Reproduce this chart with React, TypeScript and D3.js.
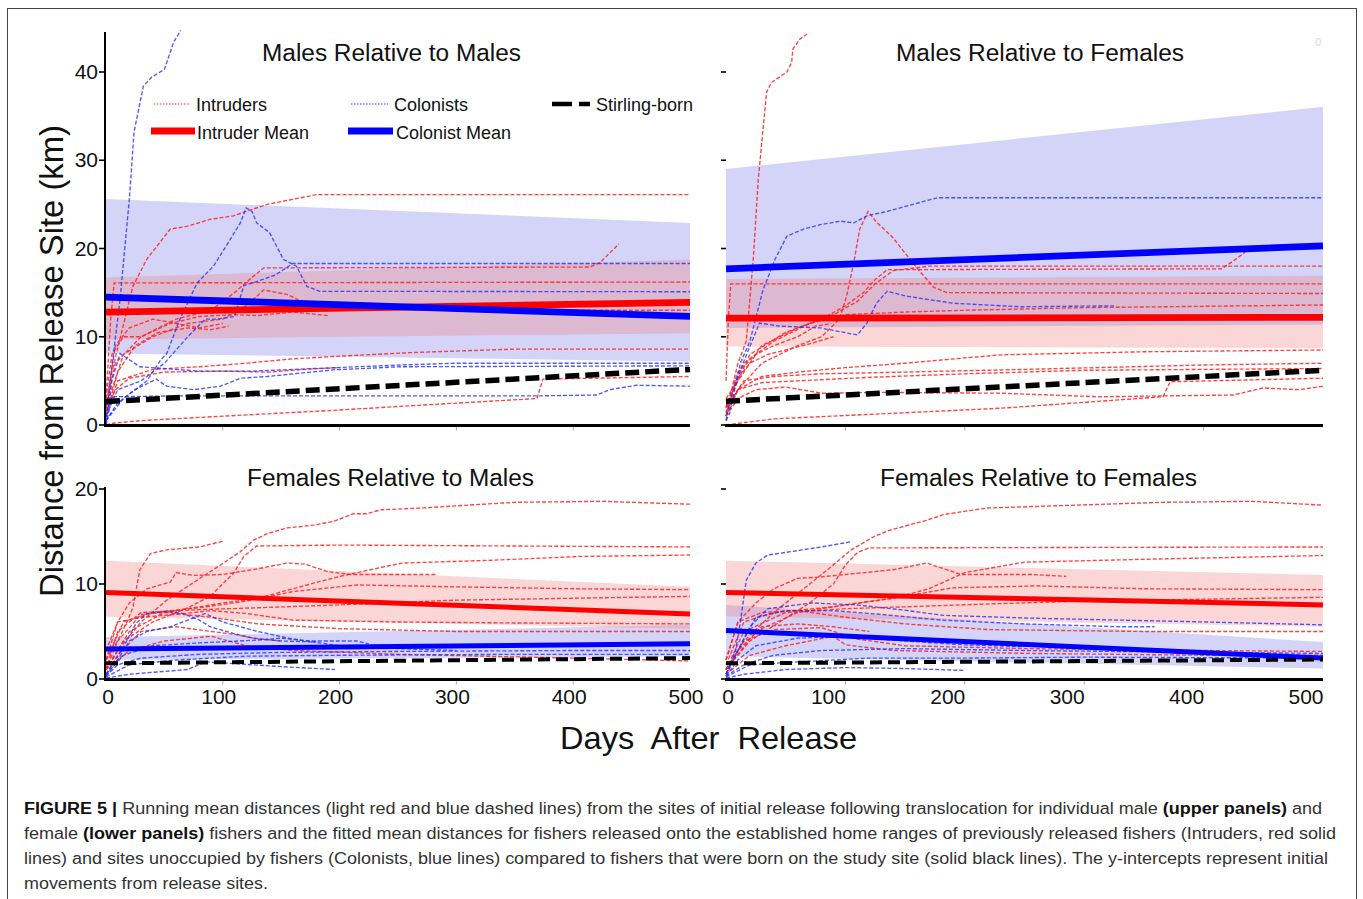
import * as d3 from 'd3'
import React from 'react'

type Pt = [number, number]
type BandPt = [number, number, number]

// x ticks (days) and y ticks (km)
const dayTicks = [0, 100, 200, 300, 400, 500]
const kmTicksTop = [0, 10, 20, 30, 40]
const kmTicksBottom = [0, 10, 20]

// ---- Males relative to males (top left)
const mmIntruders: Pt[][] = [
  [[0, 1], [5, 6], [23, 15.7], [35, 18.8], [55, 22.2], [69, 22.5], [89, 23.3], [109, 23.7], [120, 24.2], [138, 25], [180, 26.1], [500, 26.1]],
  [[0, 2], [8, 7], [30, 10], [60, 12], [90, 13], [110, 15], [123, 16.5], [135, 17.8], [414, 17.9], [423, 18.4], [439, 20.5]],
  [[0, 3], [4, 12], [7, 16.1], [500, 16.2]],
  [[0, 2], [15, 8], [40, 10], [70, 11.5], [100, 12], [120, 13.5], [135, 15.3], [155, 14.8], [180, 13.2], [300, 13], [500, 13]],
  [[0, 1], [10, 5], [40, 6.3], [80, 6.6], [120, 7.0], [160, 7.5], [200, 7.8], [260, 8.2], [350, 8.6], [500, 8.6]],
  [[0, 1.5], [8, 4], [20, 5.3], [50, 6.0], [100, 6.1], [140, 6.0], [170, 6.3], [200, 6.5]],
  [[0, 0], [6, 0.2], [30, 0.5], [100, 1.0], [200, 1.7], [250, 2.1], [369, 3.0], [374, 5.2], [500, 5.5]],
  [[0, 2], [8, 9], [20, 11], [40, 12], [60, 11.5], [80, 11], [100, 11.5]],
  [[0, 1], [10, 6], [25, 9], [45, 10.5], [70, 11], [90, 10.8], [105, 11.2]],
  [[0, 3], [5, 8], [15, 10], [30, 10], [55, 11.5], [80, 12.3], [110, 12.5], [130, 12.4], [160, 12.8], [190, 12.4]],
]
const mmColonists: Pt[][] = [
  [[0, 0.9], [5, 6.6], [12, 14.2], [20, 25.6], [24, 33.2], [32, 38.4], [39, 39.4], [50, 40.3], [58, 43.4], [64, 44.7]],
  [[0, 0.5], [15, 3], [35, 5], [47, 7.4], [52, 8.1], [63, 11.9], [78, 16.1], [92, 18.0], [103, 20.3], [115, 22.9], [120, 24.6], [125, 24.2], [129, 22.9], [140, 21.8], [152, 18.75], [163, 18.0], [172, 15.7], [183, 15.15], [500, 15.1]],
  [[0, 1], [10, 4], [30, 5], [50, 7], [70, 10], [85, 12], [95, 12], [110, 12.3], [118, 15.8], [130, 16.3], [145, 17], [160, 18.3], [500, 18.3]],
  [[0, 0], [5, 3.2], [60, 3.3], [200, 3.3], [370, 3.3], [420, 3.4], [431, 4.0], [454, 4.5], [500, 4.4]],
  [[0, 0], [5, 5], [12, 8.1], [29, 6.6], [80, 6.1], [126, 6.1], [178, 6.4], [252, 6.8], [300, 7.0], [500, 7.0]],
  [[0, 0.5], [10, 2.5], [25, 4], [43, 5.2], [52, 4.4], [75, 4.0], [98, 4.4], [115, 5.3], [138, 5.5], [195, 6.25], [252, 6.6], [500, 6.7]],
]
const mmColonistBand: BandPt[] = [[0, 8.1, 25.6], [500, 7.2, 22.9]]
const mmIntruderBand: BandPt[] = [[0, 9.7, 16.7], [500, 10.4, 18.75]]
const mmIntruderMean: Pt[] = [[0, 12.8], [500, 13.9]]
const mmColonistMean: Pt[] = [[0, 14.5], [500, 12.3]]
const mmStirling: Pt[] = [[0, 2.65], [500, 6.3]]

// ---- Males relative to females (top right)
const mfIntruders: Pt[][] = [
  [[0, 1.3], [10, 7], [17, 9.5], [23, 19.1], [27, 27.8], [31, 33.5], [34, 37.7], [38, 38.8], [51, 40], [55, 41.1], [56, 42.6], [62, 43.75], [68, 44.3]],
  [[0, 1], [10, 4], [30, 7], [60, 9], [80, 10], [95, 12], [101, 14.6], [107, 18.4], [112, 22.2], [119, 24.2], [126, 23], [140, 21.2], [151, 19.3], [163, 17.3], [174, 15.6], [185, 15.0], [500, 14.9]],
  [[0, 5], [2, 12], [4, 16], [500, 16]],
  [[0, 2], [20, 8], [50, 10.5], [80, 12], [100, 13.5], [115, 15], [125, 16.5], [135, 17.6], [415, 17.7], [425, 18.6], [435, 19.6]],
  [[0, 3], [30, 9], [60, 11], [90, 12.5], [110, 14], [125, 16], [140, 17.5], [170, 18], [500, 18]],
  [[0, 2], [15, 7], [40, 9.5], [70, 11.5], [100, 12.5], [150, 12.8], [200, 13.0], [300, 13.3], [500, 13.6]],
  [[0, 1], [10, 4], [30, 5.5], [60, 6], [100, 6.5], [150, 7], [200, 7.6], [230, 7.95], [350, 8.3], [500, 8.5]],
  [[0, 2], [15, 5], [40, 5.5], [80, 5.8], [150, 6.0], [250, 6.3], [400, 6.8], [500, 7.0]],
  [[0, 1.5], [10, 4], [30, 4.8], [60, 5.0], [120, 5.4], [200, 5.8], [300, 6.2], [500, 6.4]],
  [[0, 0], [40, 0.7], [120, 1.2], [230, 1.9], [366, 3.2], [372, 4.9], [500, 5.3]],
  [[0, 1], [10, 3], [25, 4], [50, 4.3], [80, 3.6], [130, 3.7], [230, 3.6], [313, 3.2], [425, 3.4], [450, 4.2], [480, 4.0], [500, 4.4]],
  [[0, 2], [10, 6], [25, 8], [40, 9], [60, 10], [75, 11.2], [88, 11.5]],
  [[0, 1], [8, 5], [20, 7], [35, 8], [50, 8.5], [70, 9.2], [90, 10]],
]
const mfColonists: Pt[][] = [
  [[0, 0.5], [3, 1.3], [12, 7], [20, 9.5], [31, 15.3], [41, 18.75], [51, 21.4], [65, 22.2], [79, 22.7], [96, 23.1], [107, 22.9], [118, 23.7], [135, 24.2], [151, 24.8], [177, 25.75], [500, 25.75]],
  [[0, 0.5], [3, 2.5], [12, 6.25], [20, 8.9], [28, 11.55], [45, 11.2], [79, 11.0], [110, 10.2], [118, 11.55], [126, 13.8], [135, 15.15], [151, 14.6], [190, 13.8], [246, 13.4], [325, 13.5]],
]
const mfColonistBand: BandPt[] = [[0, 11.0, 29.0], [500, 11.4, 36.05]]
const mfIntruderBand: BandPt[] = [[0, 8.9, 16.55], [500, 8.7, 16.9]]
const mfIntruderMean: Pt[] = [[0, 12.1], [500, 12.2]]
const mfColonistMean: Pt[] = [[0, 17.7], [500, 20.3]]
const mfStirling: Pt[] = [[0, 2.7], [500, 6.2]]

// ---- Females relative to males (bottom left)
const fmIntruders: Pt[][] = [
  [[0, 1], [10, 3], [30, 6], [52, 8.3], [78, 10.4], [98, 12], [115, 13.4], [126, 14.6], [138, 15.3], [155, 15.9], [178, 16.2], [195, 16.6], [212, 17.4], [223, 17.4], [235, 17.8], [270, 18], [350, 18.6], [425, 18.7], [500, 18.4]],
  [[0, 2], [10, 4], [18, 6], [23, 7.5], [29, 11.5], [38, 13.2], [52, 13.6], [80, 13.9], [100, 14.5]],
  [[0, 1], [15, 4], [40, 6], [70, 7.5], [89, 8.7], [109, 11.1], [118, 12.9], [129, 14.0], [200, 14.1], [500, 13.9]],
  [[0, 1], [20, 5], [50, 7], [100, 8], [130, 8.5], [160, 9.5], [200, 10.8], [253, 12.2], [330, 12.5], [406, 12.9], [500, 13.05]],
  [[0, 2], [10, 6], [20, 8], [35, 9.5], [55, 10.2], [60, 11.2], [75, 10.9], [100, 11.0], [130, 11.6], [155, 12.2], [170, 12.1], [190, 11.3], [210, 11.0], [250, 11.0], [282, 11.0]],
  [[0, 2], [15, 6], [40, 7], [80, 7.5], [120, 8.2], [160, 9.2], [215, 9.9], [300, 9.7], [400, 9.5], [500, 9.4]],
  [[0, 1], [10, 5], [30, 7], [80, 7.3], [130, 7.5], [200, 7.8], [300, 8.3], [400, 8.5], [500, 8.7]],
  [[0, 3], [10, 6], [30, 6.5], [60, 6.8], [90, 7.2], [120, 6.9], [160, 6.2], [250, 6.0], [350, 5.9], [500, 5.8]],
  [[0, 1], [10, 4], [30, 6.8], [50, 7.0], [90, 6.5], [130, 5.8], [200, 5.3], [300, 5.0], [500, 5.0]],
  [[0, 1], [20, 3], [50, 4], [90, 4.5], [120, 3.5], [160, 3.0], [250, 2.6], [400, 2.2], [500, 1.9]],
  [[0, 0.5], [10, 2.5], [30, 5], [60, 5.5], [90, 5], [110, 4.7], [130, 4.2], [150, 4.0]],
]
const fmColonists: Pt[][] = [
  [[0, 0.5], [8, 2], [15, 3.4], [26, 5.9], [35, 6.9], [52, 7.1], [66, 6.9], [80, 6.2], [89, 5.5], [109, 4.8], [126, 4.3], [150, 4.0], [180, 3.9]],
  [[0, 0.3], [10, 2], [20, 4], [35, 5], [55, 5.5], [70, 6.2], [85, 6.9], [100, 6.0], [130, 5.0], [160, 4.2], [200, 3.5], [250, 3.2], [300, 3.0]],
  [[0, 0.5], [15, 2.5], [40, 3.5], [80, 3.8], [130, 4.1], [150, 4.3], [175, 4.0], [215, 4.0], [225, 3.7]],
  [[0, 0.3], [10, 1.5], [30, 2.2], [80, 2.6], [150, 2.8], [250, 2.9], [400, 3.0], [500, 3.0]],
  [[0, 0.2], [20, 1.5], [60, 2.0], [120, 2.4], [200, 2.5], [350, 2.6], [500, 2.6]],
  [[0, 0.1], [20, 0.5], [50, 0.8], [70, 1.0], [85, 1.8], [100, 1.7], [150, 1.3], [196, 1.0]],
]
const fmColonistBand: BandPt[] = [[0, 2.0, 4.4], [500, 2.4, 5.7]]
const fmIntruderBand: BandPt[] = [[0, 6.56, 12.45], [500, 5.3, 9.7]]
const fmIntruderMean: Pt[] = [[0, 9.1], [500, 6.85]]
const fmColonistMean: Pt[] = [[0, 3.16], [500, 3.7]]
const fmStirling: Pt[] = [[0, 1.65], [500, 2.2]]

// ---- Females relative to females (bottom right)
const ffIntruders: Pt[][] = [
  [[0, 1], [15, 4], [40, 7], [65, 9.5], [85, 11.5], [105, 13.6], [124, 15], [138, 15.7], [168, 16.7], [182, 17.3], [197, 17.6], [219, 18], [293, 18.3], [366, 18.6], [440, 18.7], [500, 18.3]],
  [[0, 1], [20, 4], [45, 6], [70, 8], [90, 10], [100, 12], [110, 13.3], [120, 13.8], [500, 13.9]],
  [[0, 1], [25, 5], [60, 7], [110, 8], [140, 8.5], [170, 9.5], [200, 11.2], [250, 12.3], [350, 12.6], [500, 13.0]],
  [[0, 2], [10, 6], [25, 8], [40, 9.5], [60, 10.6], [75, 10.7], [100, 11], [140, 11.5], [168, 12.2], [197, 11], [256, 11], [285, 10.8]],
  [[0, 1.5], [15, 6], [40, 7], [90, 7.6], [140, 8.5], [190, 9.6], [260, 9.8], [350, 9.5], [500, 9.4]],
  [[0, 1], [15, 5], [50, 7], [100, 7.4], [150, 7.6], [220, 7.9], [300, 8.2], [400, 8.4], [500, 8.6]],
  [[0, 2], [10, 6], [30, 7.0], [60, 7.2], [100, 6.5], [150, 5.8], [220, 5.2], [350, 5.0], [500, 5.0]],
  [[0, 1], [15, 4], [40, 5.2], [80, 5.4], [110, 4.2], [150, 3.5], [250, 3.2], [400, 3.0], [500, 2.9]],
  [[0, 0.5], [20, 2.5], [50, 3.5], [90, 4.5], [100, 3.6], [140, 3.0], [250, 2.7], [400, 2.5], [500, 2.5]],
  [[0, 0.3], [10, 3], [30, 5.5], [60, 5.8], [90, 5.5], [120, 5.0]],
]
const ffColonists: Pt[][] = [
  [[0, 0.5], [8, 3], [12, 6], [17, 10.4], [25, 12.2], [35, 13.05], [54, 13.4], [80, 13.9], [105, 14.45]],
  [[0, 0.5], [10, 3], [20, 5.5], [35, 7.4], [72, 8.0], [109, 7.8], [146, 7.3], [182, 6.7], [256, 6.4], [330, 6.2], [403, 6.0], [500, 5.7]],
  [[0, 0.5], [10, 3], [25, 6.5], [50, 7.2], [90, 7.2], [130, 6.8], [180, 6.2], [250, 5.8], [330, 5.5], [359, 5.5]],
  [[0, 0.3], [15, 1.5], [40, 2.5], [80, 3.0], [150, 3.2], [250, 3.0], [400, 2.8], [500, 2.7]],
  [[0, 0.1], [15, 0.5], [50, 1.0], [100, 1.2], [150, 1.1], [200, 0.9]],
  [[0, 0.3], [10, 2], [25, 3.5], [60, 4.3], [100, 4.5], [150, 4.0], [200, 3.6], [250, 3.4]],
  [[0, 0.2], [20, 1.5], [60, 1.8], [120, 2.2], [200, 2.2], [300, 2.3], [500, 2.2]],
]
const ffColonistBand: BandPt[] = [[0, 2.4, 7.8], [500, 1.1, 3.9]]
const ffIntruderBand: BandPt[] = [[0, 6.6, 12.45], [500, 5.5, 10.95]]
const ffIntruderMean: Pt[] = [[0, 9.1], [500, 7.8]]
const ffColonistMean: Pt[] = [[0, 5.1], [500, 2.2]]
const ffStirling: Pt[] = [[0, 1.65], [500, 2.05]]

const FONT = '"Liberation Sans", Arial, sans-serif'
const RED = '#ff0000'
const BLUE = '#0000ff'

type PanelProps = {
  xs: d3.ScaleLinear<number, number>
  ys: d3.ScaleLinear<number, number>
  intruders: Pt[][]
  colonists: Pt[][]
  colonistBand: BandPt[]
  intruderBand: BandPt[]
  intruderMean: Pt[]
  colonistMean: Pt[]
  stirling: Pt[]
  meanWidth: number
  stirWidth: number
  stirDash: string
}

const Panel = (p: PanelProps) => {
  const line = d3.line<Pt>().x(d => p.xs(d[0])).y(d => p.ys(d[1]))
  const area = d3.area<BandPt>().x(d => p.xs(d[0])).y0(d => p.ys(d[1])).y1(d => p.ys(d[2]))
  return (
    <g>
      <path d={area(p.colonistBand) || ''} fill="#6464e6" fillOpacity={0.28} />
      <path d={area(p.intruderBand) || ''} fill="#f07878" fillOpacity={0.3} />
      {p.intruders.map((d, i) => (
        <path key={'r' + i} d={line(d) || ''} fill="none" stroke="#ff2020" strokeOpacity={0.85} strokeWidth={1.35} strokeDasharray="4,2" />
      ))}
      {p.colonists.map((d, i) => (
        <path key={'b' + i} d={line(d) || ''} fill="none" stroke="#2030ff" strokeOpacity={0.8} strokeWidth={1.35} strokeDasharray="4,2" />
      ))}
      <path d={line(p.intruderMean) || ''} fill="none" stroke={RED} strokeWidth={p.meanWidth} />
      <path d={line(p.colonistMean) || ''} fill="none" stroke={BLUE} strokeWidth={p.meanWidth} />
      <path d={line(p.stirling) || ''} fill="none" stroke="#000" strokeWidth={p.stirWidth} strokeDasharray={p.stirDash} />
    </g>
  )
}

const XAxis = ({ xs, y, labelDx }: { xs: d3.ScaleLinear<number, number>; y: number; labelDx?: number }) => (
  <g>
    {dayTicks.slice(1, -1).map(t => (
      <line key={t} x1={xs(t)} x2={xs(t)} y1={y} y2={y + 5} stroke="#aaa" strokeWidth={1} />
    ))}
    <line x1={xs(0) - 1} x2={xs(500)} y1={y} y2={y} stroke="#000" strokeWidth={3} />
    {labelDx !== undefined && dayTicks.map(t => (
      <text key={t} x={xs(t) + (t === 0 ? 2 : labelDx)} y={y + 24} textAnchor="middle" fontSize={21} fontFamily={FONT} fill="#111">{t}</text>
    ))}
  </g>
)

const YAxis = ({ ys, ticks, x, labels }: { ys: d3.ScaleLinear<number, number>; ticks: number[]; x: number; labels: boolean }) => (
  <g>
    {labels && <line x1={x} x2={x} y1={ys(ticks[ticks.length - 1]) - (ticks.length > 3 ? 40 : 2)} y2={ys(0) + 2} stroke="#000" strokeWidth={2} />}
    {ticks.map(t => (
      <g key={t}>
        <line x1={x - 6} x2={x - 1} y1={ys(t)} y2={ys(t)} stroke="#000" strokeWidth={1.6} />
        {labels && <text x={x - 7} y={ys(t) + 7} textAnchor="end" fontSize={21} fontFamily={FONT} fill="#111">{t}</text>}
      </g>
    ))}
  </g>
)

const Legend = () => (
  <g fontFamily={FONT} fontSize={18} fill="#111">
    <line x1={154} x2={190} y1={104} y2={104} stroke="#ff3030" strokeWidth={1.2} strokeDasharray="1.5,1.5" />
    <text x={196} y={111}>Intruders</text>
    <line x1={351} x2={388} y1={104} y2={104} stroke="#3040ff" strokeWidth={1.2} strokeDasharray="1.5,1.5" />
    <text x={394} y={111}>Colonists</text>
    <line x1={552} x2={590} y1={104} y2={104} stroke="#000" strokeWidth={4.5} strokeDasharray="20,7" />
    <text x={596} y={111}>Stirling-born</text>
    <line x1={151} x2={195} y1={131} y2={131} stroke={RED} strokeWidth={7} />
    <text x={197} y={139}>Intruder Mean</text>
    <line x1={348} x2={393} y1={131} y2={131} stroke={BLUE} strokeWidth={7} />
    <text x={396} y={139}>Colonist Mean</text>
  </g>
)

const App = () => {
  const xLeft = d3.scaleLinear().domain([0, 500]).range([106, 690])
  const xRight = d3.scaleLinear().domain([0, 500]).range([726, 1323])
  const yTop = d3.scaleLinear().domain([0, 40]).range([425, 72])
  const yBottom = d3.scaleLinear().domain([0, 20]).range([679, 489])

  const topStyle = { meanWidth: 6.8, stirWidth: 5.5, stirDash: '14,6' }
  const botStyle = { meanWidth: 5, stirWidth: 4, stirDash: '12,6' }

  return (
    <div style={{ position: 'absolute', left: 0, top: 0 }}>
      <svg width={1363} height={899} style={{ display: 'block', background: '#fff' }}>
        <rect x={7.5} y={8.5} width={1349} height={905} fill="none" stroke="#444" strokeWidth={1} />

        <Panel xs={xLeft} ys={yTop} intruders={mmIntruders} colonists={mmColonists} colonistBand={mmColonistBand}
          intruderBand={mmIntruderBand} intruderMean={mmIntruderMean} colonistMean={mmColonistMean} stirling={mmStirling} {...topStyle} />
        <Panel xs={xRight} ys={yTop} intruders={mfIntruders} colonists={mfColonists} colonistBand={mfColonistBand}
          intruderBand={mfIntruderBand} intruderMean={mfIntruderMean} colonistMean={mfColonistMean} stirling={mfStirling} {...topStyle} />
        <Panel xs={xLeft} ys={yBottom} intruders={fmIntruders} colonists={fmColonists} colonistBand={fmColonistBand}
          intruderBand={fmIntruderBand} intruderMean={fmIntruderMean} colonistMean={fmColonistMean} stirling={fmStirling} {...botStyle} />
        <Panel xs={xRight} ys={yBottom} intruders={ffIntruders} colonists={ffColonists} colonistBand={ffColonistBand}
          intruderBand={ffIntruderBand} intruderMean={ffIntruderMean} colonistMean={ffColonistMean} stirling={ffStirling} {...botStyle} />

        <YAxis ys={yTop} ticks={kmTicksTop} x={105} labels={true} />
        <YAxis ys={yTop} ticks={kmTicksTop} x={727} labels={false} />
        <YAxis ys={yBottom} ticks={kmTicksBottom} x={105} labels={true} />
        <YAxis ys={yBottom} ticks={kmTicksBottom} x={727} labels={false} />
        <XAxis xs={xLeft} y={425.5} />
        <XAxis xs={xRight} y={425.5} />
        <XAxis xs={xLeft} y={679.5} labelDx={-4} />
        <XAxis xs={xRight} y={679.5} labelDx={-17} />

        <g fontFamily={FONT} fontSize={23.5} fill="#111">
          <text x={262} y={61} textLength={259} lengthAdjust="spacingAndGlyphs">Males Relative to Males</text>
          <text x={896} y={61} textLength={288} lengthAdjust="spacingAndGlyphs">Males Relative to Females</text>
          <text x={247} y={486} textLength={287} lengthAdjust="spacingAndGlyphs">Females Relative to Males</text>
          <text x={880} y={486} textLength={317} lengthAdjust="spacingAndGlyphs">Females Relative to Females</text>
        </g>
        <Legend />
        <text x={1318} y={46} fontSize={11} fontFamily={FONT} fill="#d8d8d8" textAnchor="middle">0</text>

        <text transform="translate(63,597) rotate(-90)" x={0} y={0} fontSize={34} fontFamily={FONT} fill="#111"
          textLength={472} lengthAdjust="spacingAndGlyphs">Distance from Release Site (km)</text>
        <text x={560} y={749} fontSize={32} fontFamily={FONT} fill="#111" textLength={297} lengthAdjust="spacingAndGlyphs"
          style={{ whiteSpace: 'pre' }}>Days  After  Release</text>

        <g fontFamily={FONT} fontSize={16} fill="#333">
          <text x={24} y={814} textLength={1298} lengthAdjust="spacingAndGlyphs">
            <tspan fontWeight="bold" fill="#111">FIGURE 5 |</tspan> Running mean distances (light red and blue dashed lines) from the sites of initial release following translocation for individual male <tspan fontWeight="bold" fill="#111">(upper panels)</tspan> and
          </text>
          <text x={24} y={839} textLength={1312} lengthAdjust="spacingAndGlyphs">
            female <tspan fontWeight="bold" fill="#111">(lower panels)</tspan> fishers and the fitted mean distances for fishers released onto the established home ranges of previously released fishers (Intruders, red solid
          </text>
          <text x={24} y={864} textLength={1304} lengthAdjust="spacingAndGlyphs">
            lines) and sites unoccupied by fishers (Colonists, blue lines) compared to fishers that were born on the study site (solid black lines). The y-intercepts represent initial
          </text>
          <text x={24} y={889} textLength={244} lengthAdjust="spacingAndGlyphs">movements from release sites.</text>
        </g>
      </svg>
    </div>
  )
}

export default App
